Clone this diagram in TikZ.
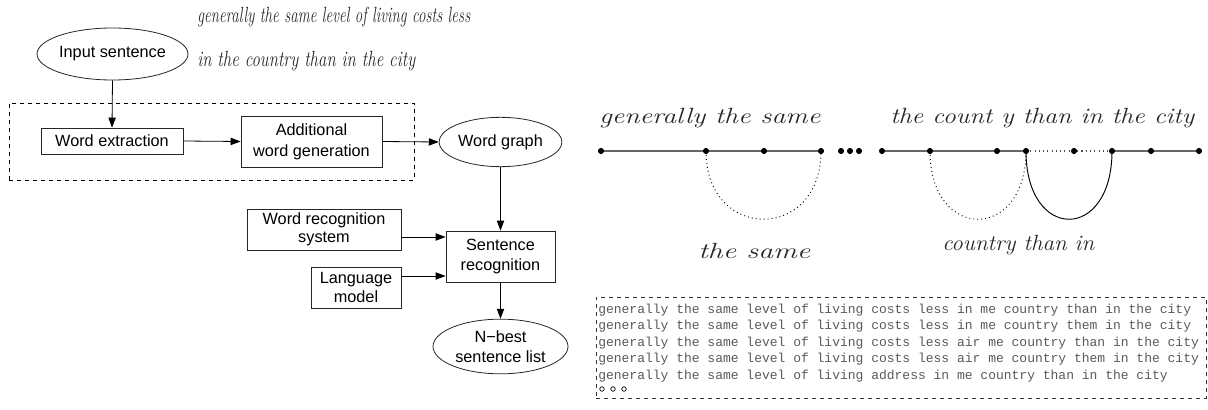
\documentclass[tikz,border=0pt]{standalone}
\usepackage{fontspec}
\usepackage{graphicx}
\usetikzlibrary{shapes.geometric,arrows.meta}
\newfontfamily\labsans{Liberation Sans}
\newfontfamily\labmono{Liberation Mono}
\newcommand{\labfont}{\labsans\fontsize{12.2}{15.5}\selectfont}
\newcommand{\hw}[2]{\resizebox{#1}{\height}{\fontsize{16.5}{18}\selectfont\itshape #2}}
\begin{document}
\begin{tikzpicture}[x=0.75pt,y=-0.75pt,
  boxnode/.style={draw=black!85, line width=0.6pt, font=\labfont, align=center, inner sep=0pt},
  ellnode/.style={ellipse, draw=black!85, line width=0.6pt, font=\labfont, align=center, inner sep=0pt},
  arr/.style={-{Triangle[length=7.5pt,width=5.5pt]}, line width=0.6pt, draw=black},
  grpbox/.style={draw=black, dashed, line width=0.6pt, inner sep=0pt},
  listbox/.style={draw=black!80, dashed, line width=0.6pt, inner sep=0pt},
  gdot/.style={circle, fill=black, inner sep=0pt, minimum size=4.6pt},
  gline/.style={draw=black!60, line width=1.4pt},
  gdotted/.style={draw=black!70, line width=0.8pt, dash pattern=on 0.8pt off 2.4pt},
  arcsolid/.style={draw=black, line width=0.7pt},
  arcdotted/.style={draw=black, line width=0.7pt, dash pattern=on 0.7pt off 2.3pt},
  hand/.style={inner sep=0pt, text=black!85},
  monoline/.style={inner sep=0pt, anchor=base west, text=black!65, font=\labmono\fontsize{9.75}{12}\selectfont},
  smallring/.style={circle, draw=black, line width=0.5pt, inner sep=0pt, minimum size=3.4pt}
]
\useasboundingbox (0,0) rectangle (1208,410);

% handwritten input
\node[hand, anchor=base west] (hw1) at (197,23) {\hw{204.75pt}{generally the same level of living costs less}};
\node[hand, anchor=base west] (hw2) at (197,67) {\hw{163.5pt}{in the country than in the city}};

% left flow chart
\node[grpbox, minimum width=303.75pt, minimum height=57.75pt] (grp) at (211.5,141.5) {};
\node[ellnode, minimum width=101.25pt, minimum height=39pt] (inp) at (112.5,54) {Input sentence};
\node[boxnode, minimum width=106.5pt, minimum height=19.5pt] (wext) at (112,141) {Word extraction};
\node[boxnode, minimum width=105.75pt, minimum height=38.25pt] (awg) at (311.5,141.5) {Additional\\word generation};
\node[ellnode, minimum width=92pt, minimum height=37pt] (wg) at (500.5,142) {Word graph};
\node[boxnode, minimum width=81.75pt, minimum height=38.25pt] (sr) at (500.5,256.5) {Sentence\\recognition};
\node[boxnode, minimum width=115.5pt, minimum height=30.75pt, font=\labsans\fontsize{12.2}{13.6}\selectfont] (wrs) at (324,229.5) {Word recognition\\system};
\node[boxnode, minimum width=67.5pt, minimum height=30.75pt, font=\labsans\fontsize{12.2}{13.6}\selectfont] (lm) at (356,287.5) {Language\\model};
\node[ellnode, minimum width=101.25pt, minimum height=41pt, font=\labsans\fontsize{12.2}{15}\selectfont] (nb) at (500.5,346.5) {N−best\\sentence list};

\draw[arr] (inp.south) -- (wext.north);
\draw[arr] (wext.east) -- (awg.west);
\draw[arr] (awg.east) -- (wg.west);
\draw[arr] (wg.south) -- (sr.north);
\draw[arr] (wrs.east |- 0,237) -- (sr.west |- 0,237);
\draw[arr] (lm.east |- 0,276) -- (sr.west |- 0,276);
\draw[arr] (sr.south) -- (nb.north);

% word graph (right)
\node[hand, anchor=base west] (gl1) at (599,124) {\hw{165.75pt}{generally the same}};
\node[hand, anchor=base west] (gl2) at (890,124) {\hw{228pt}{the count y than in the city}};
\node[hand, anchor=base west] (gl3) at (698,258) {\hw{84pt}{the same}};
\node[hand, anchor=base west] (gl4) at (942,250) {\hw{114pt}{country than in}};

\foreach \nm/\xx in {a1/601,a2/706,a3/764,a4/821,b1/882,b2/930,b3/997,b4/1026,b5/1074,b6/1112,b7/1151,b8/1199}
  \coordinate (\nm) at (\xx,151);
\draw[gline] (a1) -- (a2) -- (a3) -- (a4);
\draw[gline] (b1) -- (b2) -- (b3) -- (b4);
\draw[gdotted] (b4) -- (b5) -- (b6);
\draw[gline] (b6) -- (b7) -- (b8);
\draw[arcdotted] (a2) .. controls ([yshift=-68.25pt]a2) and ([yshift=-68.25pt]a4) .. (a4);
\draw[arcdotted] (b2) .. controls ([yshift=-68.25pt]b2) and ([yshift=-68.25pt]b4) .. (b4);
\draw[arcsolid] (b4) .. controls ([yshift=-68.25pt]b4) and ([yshift=-68.25pt]b6) .. (b6);
\foreach \nm in {a1,a2,a3,a4,b1,b2,b3,b4,b5,b6,b7,b8}
  \node[gdot] (d\nm) at (\nm) {};
\node[gdot] (e1) at (841,151) {};
\node[gdot] (e2) at (850,151) {};
\node[gdot] (e3) at (859,151) {};

% N-best list
\node[listbox, minimum width=457.5pt, minimum height=75.75pt] (lst) at (901,347.5) {};
\node[monoline] (l1) at (598,313) {generally the same level of living costs less in me country than in the city};
\node[monoline] (l2) at (598,329.5) {generally the same level of living costs less in me country them in the city};
\node[monoline] (l3) at (598,346) {generally the same level of living costs less air me country than in the city};
\node[monoline] (l4) at (598,362.5) {generally the same level of living costs less air me country them in the city};
\node[monoline] (l5) at (598,379) {generally the same level of living address in me country than in the city};
\node[smallring] (r1) at (602,389) {};
\node[smallring] (r2) at (613,389) {};
\node[smallring] (r3) at (624,389) {};
\end{tikzpicture}
\end{document}
